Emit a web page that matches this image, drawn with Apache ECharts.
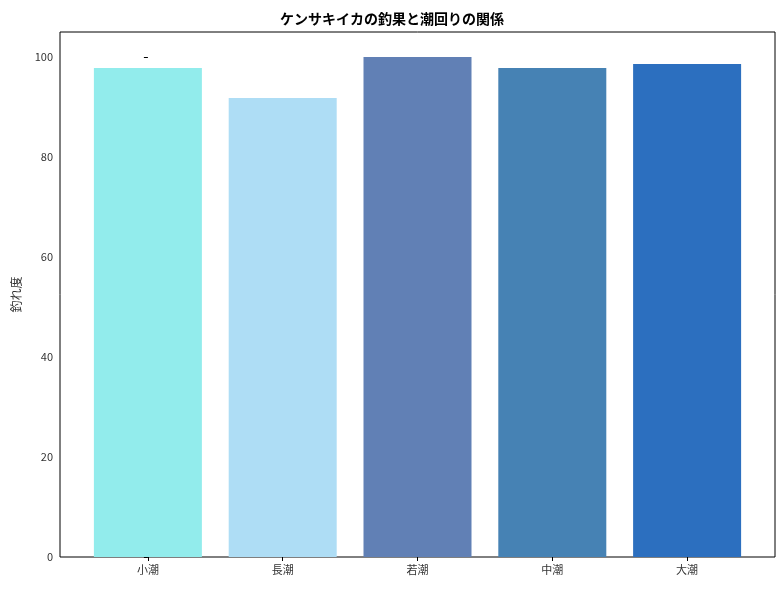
<!DOCTYPE html>
<html><head><meta charset="utf-8">
<script src="https://cdn.jsdelivr.net/npm/echarts@6/dist/echarts.min.js"></script>
<style>html,body{margin:0;background:#fff}#c{width:784px;height:590px}</style>
</head><body><div id="c"></div>
<script>
const categories = ['小潮','長潮','若潮','中潮','大潮'];
const values = [97.8, 91.8, 100.0, 97.8, 98.6];
const colors = ['#92ECEC','#AEDDF5','#6180B5','#4682B4','#2C6FBF'];
const yTicks = [0,20,40,60,80,100];
const font = '"Noto Sans CJK JP", sans-serif';
const chart = echarts.init(document.getElementById('c'));
chart.setOption({
  animation:false,
  title:{text:'ケンサキイカの釣果と潮回りの関係',left:'center',top:7,textStyle:{fontFamily:font,fontSize:14,fontWeight:'bold',color:'#000'}},
  grid:{left:60,right:9,top:32,bottom:33,show:true,borderColor:'#000',borderWidth:1,containLabel:false},
  xAxis:{type:'value',min:-0.652,max:4.652,splitLine:{show:false},
    axisLine:{show:false},
    axisTick:{show:true,customValues:[0,1,2,3,4],length:4,inside:false,lineStyle:{color:'#000'}},
    axisLabel:{customValues:[0,1,2,3,4],formatter:v=>categories[Math.round(v)],fontFamily:font,fontSize:11,color:'#333',margin:7}},
  yAxis:{type:'value',min:0,max:105,name:'釣れ度',nameLocation:'middle',nameGap:38,nameRotate:90,
    nameTextStyle:{fontFamily:font,fontSize:12,color:'#333'},
    splitLine:{show:false},axisLine:{show:false},
    axisTick:{show:true,customValues:yTicks,length:4,lineStyle:{color:'#000'}},
    axisLabel:{customValues:yTicks,fontFamily:font,fontSize:11,color:'#333',margin:7}},
  series:[{type:'bar',barWidth:108,
    data:values.map((v,i)=>({value:[i,v],itemStyle:{color:colors[i]}}))}]
});
</script></body></html>
